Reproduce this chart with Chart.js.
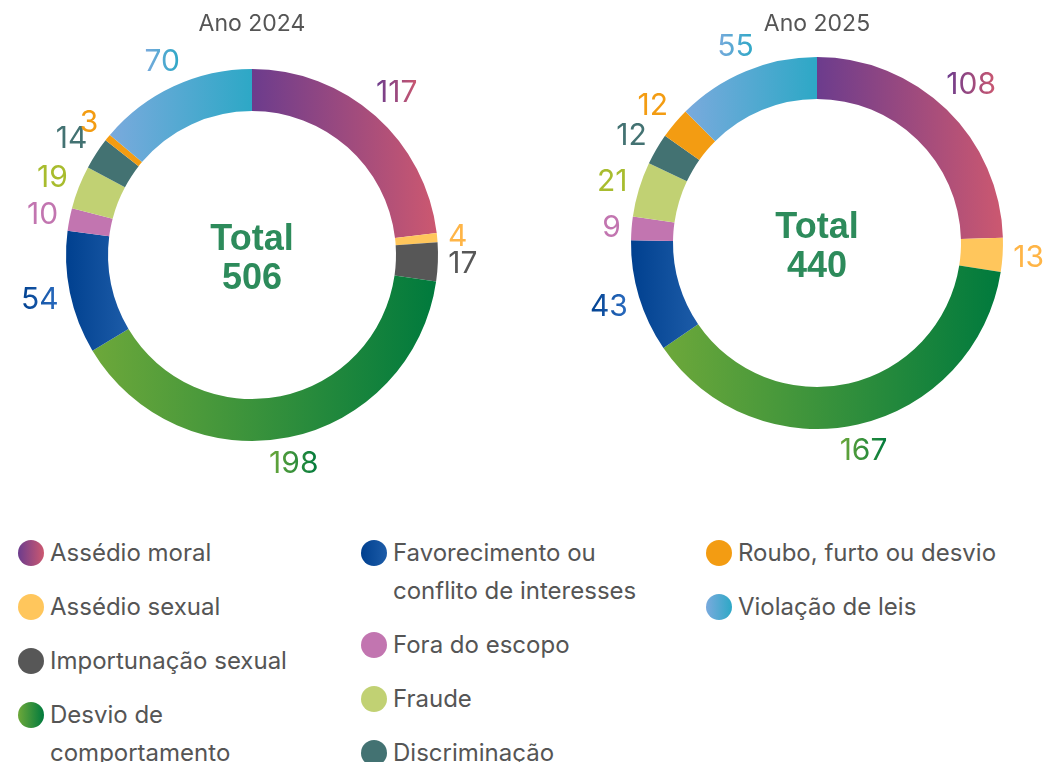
<!DOCTYPE html>
<html>
<head>
<meta charset="utf-8">
<script src="https://cdn.jsdelivr.net/npm/chart.js@4"></script>
<style>
  html, body { margin: 0; padding: 0; background: #fff; overflow: hidden; }
  body { width: 1044px; height: 762px; position: relative; font-family: Inter, "Noto Sans", sans-serif; }
  .chart-box { position: absolute; top: 0; height: 480px; }
  .legend-col { position: absolute; top: 534px; }
  .legend-item { display: flex; align-items: flex-start; margin-bottom: 16px; }
  .legend-dot { width: 26px; height: 26px; border-radius: 50%; margin-top: 6px; flex: none; }
  .legend-text { font-size: 24px; line-height: 38px; color: #555; width: 275px; margin-left: 6px; }
</style>
</head>
<body>
<div class="chart-box" style="left:0;width:504px"><canvas id="c2024"></canvas></div>
<div class="chart-box" style="left:565px;width:479px"><canvas id="c2025"></canvas></div>
<div class="legend-col" style="left:18px" id="lg0"></div>
<div class="legend-col" style="left:361px" id="lg1"></div>
<div class="legend-col" style="left:706px" id="lg2"></div>
<script>
// categories, in ring order (clockwise from the top)
const categories = [
  'Assédio moral', 'Assédio sexual', 'Importunação sexual', 'Desvio de comportamento',
  'Favorecimento ou conflito de interesses', 'Fora do escopo', 'Fraude',
  'Discriminação', 'Roubo, furto ou desvio', 'Violação de leis'
];
const values2024 = [117, 4, 17, 198, 54, 10, 19, 14, 3, 70];
const values2025 = [108, 13, 0, 167, 43, 9, 21, 12, 12, 55];

// gradient colours (left -> right)
const colorFrom = ['#6C3C8D', '#FFC65C', '#575757', '#6DA83A', '#00408F', '#C275B0', '#C1D173', '#437272', '#F39C12', '#7AAADD'];
const colorTo   = ['#CC5870', '#FFC65C', '#575757', '#007A3D', '#1D5CA8', '#C275B0', '#C1D173', '#437272', '#F39C12', '#2DA8C6'];
const labelFrom = ['#6C3C8D', '#FFB547', '#575757', '#6DA83A', '#00408F', '#C275B0', '#A8BC2E', '#437272', '#F39C12', '#7AAADD'];
const labelTo   = ['#CC5870', '#FFB547', '#575757', '#007A3D', '#2B6CC0', '#C275B0', '#A8BC2E', '#437272', '#F39C12', '#2DA8C6'];

const OUTER = 186;
const INNER = 144;

function sectorGradient(c, cx, cy, a0, a1, i) {
  let xmin = Infinity, xmax = -Infinity;
  const steps = 30;
  for (let k = 0; k <= steps; k++) {
    const a = a0 + (a1 - a0) * k / steps;
    [INNER, OUTER].forEach(r => {
      const x = cx + r * Math.cos(a);
      if (x < xmin) xmin = x;
      if (x > xmax) xmax = x;
    });
  }
  if (xmax - xmin < 1) xmax = xmin + 1;
  const g = c.createLinearGradient(xmin, 0, xmax, 0);
  g.addColorStop(0, colorFrom[i]);
  g.addColorStop(1, colorTo[i]);
  return g;
}

function arcColor(ctx) {
  const i = ctx.dataIndex;
  const area = ctx.chart.chartArea;
  if (!area || ctx.type !== 'data') return colorFrom[i];
  const data = ctx.dataset.data;
  const total = data.reduce((a, b) => a + b, 0);
  let before = 0;
  for (let k = 0; k < i; k++) before += data[k];
  const a0 = -Math.PI / 2 + before / total * Math.PI * 2;
  const a1 = a0 + data[i] / total * Math.PI * 2;
  const cx = (area.left + area.right) / 2;
  const cy = (area.top + area.bottom) / 2;
  return sectorGradient(ctx.chart.ctx, cx, cy, a0, a1, i);
}

// value labels outside the ring + total in the middle
const ringText = {
  id: 'ringText',
  afterDatasetsDraw(chart) {
    const c = chart.ctx;
    const meta = chart.getDatasetMeta(0);
    const data = chart.data.datasets[0].data;
    c.save();
    c.font = '30px Inter';
    c.textAlign = 'center';
    c.textBaseline = 'middle';
    meta.data.forEach((arc, i) => {
      if (!data[i]) return;
      const p = arc.getProps(['x', 'y', 'startAngle', 'endAngle', 'outerRadius'], true);
      const mid = (p.startAngle + p.endAngle) / 2;
      const txt = String(data[i]);
      const w = c.measureText(txt).width;
      const ux = Math.cos(mid), uy = Math.sin(mid);
      // keep the label box just clear of the ring
      const r = p.outerRadius + 10 + Math.abs(ux) * w / 2 + Math.abs(uy) * 11;
      const x = p.x + r * ux;
      const y = p.y + r * uy;
      const g = c.createLinearGradient(x - w / 2, 0, x + w / 2, 0);
      g.addColorStop(0, labelFrom[i]);
      g.addColorStop(1, labelTo[i]);
      c.fillStyle = g;
      c.fillText(txt, x, y + 1);
    });
    const area = chart.chartArea;
    const cx = (area.left + area.right) / 2;
    const cy = (area.top + area.bottom) / 2;
    const total = data.reduce((a, b) => a + b, 0);
    c.fillStyle = '#2D8B5B';
    c.font = 'bold 36px "Liberation Sans", Arial, sans-serif';
    c.fillText('Total', cx, cy - 15);
    c.fillText(String(total), cx, cy + 24);
    c.restore();
  }
};

function makeChart(id, title, values, padding, titleBottom) {
  return new Chart(document.getElementById(id), {
    type: 'doughnut',
    data: {
      labels: categories,
      datasets: [{
        data: values,
        backgroundColor: arcColor,
        borderWidth: 0,
        hoverOffset: 0
      }]
    },
    options: {
      responsive: true,
      maintainAspectRatio: false,
      animation: false,
      radius: OUTER,
      cutout: INNER,
      layout: { padding: padding },
      plugins: {
        legend: { display: false },
        tooltip: { enabled: false },
        title: {
          display: true,
          text: title,
          color: '#555',
          font: { family: 'Inter', size: 23, weight: 'normal' },
          padding: { top: 4, bottom: titleBottom }
        }
      }
    },
    plugins: [ringText]
  });
}

makeChart('c2024', 'Ano 2024', values2024, { left: 66, right: 66, top: 6, bottom: 39 }, 31.4);
makeChart('c2025', 'Ano 2025', values2025, { left: 66, right: 41, top: 6, bottom: 51 }, 19.4);

// html legend, three columns
const legendCols = [[0, 1, 2, 3], [4, 5, 6, 7], [8, 9]];
legendCols.forEach((col, ci) => {
  const el = document.getElementById('lg' + ci);
  col.forEach(i => {
    const item = document.createElement('div');
    item.className = 'legend-item';
    const dot = document.createElement('div');
    dot.className = 'legend-dot';
    dot.style.background = `linear-gradient(to right, ${colorFrom[i]}, ${colorTo[i]})`;
    const txt = document.createElement('div');
    txt.className = 'legend-text';
    txt.textContent = categories[i];
    item.appendChild(dot);
    item.appendChild(txt);
    el.appendChild(item);
  });
});
</script>
</body>
</html>
